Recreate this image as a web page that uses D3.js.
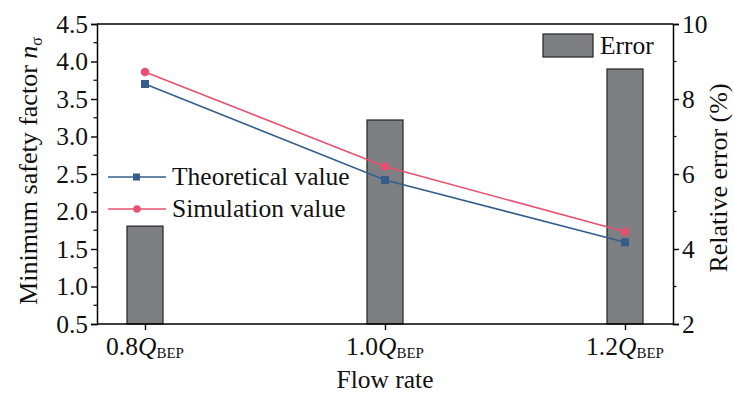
<!DOCTYPE html>
<html>
<head>
<meta charset="utf-8">
<script src="https://cdn.jsdelivr.net/npm/d3@7"></script>
<style>
  html, body { margin: 0; padding: 0; background: #fff; }
  svg { display: block; font-family: "Liberation Serif", "Times New Roman", serif; }
</style>
</head>
<body>
<svg id="chart" width="734" height="394"></svg>
<script>
// Flow-rate operating points
const categories = ["0.8", "1.0", "1.2"];
// Minimum safety factor n_σ
const theoretical = [3.70, 2.42, 1.59];
const simulation = [3.86, 2.60, 1.73];
// Relative error (%)
const errorPct = [4.61, 7.44, 8.80];
// Axis ticks
const leftTicks = [0.5, 1.0, 1.5, 2.0, 2.5, 3.0, 3.5, 4.0, 4.5];
const rightTicks = [2, 4, 6, 8, 10];

const FS = "25.5px";
const SUB = "15px";

const svg = d3.select("#chart");
const m = { left: 97, right: 61, top: 24, bottom: 70 };
const W = 734, H = 394;
const x0 = m.left, x1 = W - m.right, y0 = H - m.bottom, y1 = m.top;

const x = d3.scalePoint().domain(categories).range([x0, x1]).padding(0.2);
const yL = d3.scaleLinear().domain([0.5, 4.5]).range([y0, y1]);
const yR = d3.scaleLinear().domain([2, 10]).range([y0, y1]);

const blue = "#355e8d";
const pink = "#e8506f";
const barFill = "#7e7f83";
const barW = 36;

// Bars (right axis)
svg.append("g").selectAll("rect").data(errorPct).join("rect")
  .attr("x", (d, i) => x(categories[i]) - barW / 2)
  .attr("y", d => yR(d))
  .attr("width", barW)
  .attr("height", d => y0 - yR(d))
  .attr("fill", barFill)
  .attr("stroke", "#222")
  .attr("stroke-width", 1.2);

// Lines
const line = d3.line().x((d, i) => x(categories[i])).y(d => yL(d));
svg.append("path").datum(theoretical).attr("d", line)
  .attr("fill", "none").attr("stroke", blue).attr("stroke-width", 1.6);
svg.append("path").datum(simulation).attr("d", line)
  .attr("fill", "none").attr("stroke", pink).attr("stroke-width", 1.6);

svg.append("g").selectAll("rect").data(theoretical).join("rect")
  .attr("x", (d, i) => x(categories[i]) - 4)
  .attr("y", d => yL(d) - 4)
  .attr("width", 8).attr("height", 8)
  .attr("fill", blue);
svg.append("g").selectAll("circle").data(simulation).join("circle")
  .attr("cx", (d, i) => x(categories[i]))
  .attr("cy", d => yL(d))
  .attr("r", 4.3)
  .attr("fill", pink);

// Frame
svg.append("line").attr("x1", x0).attr("x2", x1).attr("y1", y1).attr("y2", y1)
  .attr("stroke", "#000").attr("stroke-width", 1.5);

// Left axis
const leftAxis = svg.append("g").attr("transform", `translate(${x0},0)`)
  .call(d3.axisLeft(yL).tickValues(leftTicks).tickFormat(d3.format(".1f")).tickSize(6).tickPadding(3));
// minor ticks
svg.append("g").selectAll("line").data(d3.range(0.75, 4.5, 0.5)).join("line")
  .attr("x1", x0 - 3.5).attr("x2", x0).attr("y1", d => yL(d)).attr("y2", d => yL(d))
  .attr("stroke", "#000").attr("stroke-width", 1.2);

// Right axis
const rightAxis = svg.append("g").attr("transform", `translate(${x1},0)`)
  .call(d3.axisRight(yR).tickValues(rightTicks).tickSize(6).tickPadding(3));
svg.append("g").selectAll("line").data([3, 5, 7, 9]).join("line")
  .attr("x1", x1).attr("x2", x1 + 3.5).attr("y1", d => yR(d)).attr("y2", d => yR(d))
  .attr("stroke", "#000").attr("stroke-width", 1.2);

// Bottom axis
const bottomAxis = svg.append("g").attr("transform", `translate(0,${y0})`)
  .call(d3.axisBottom(x).tickSize(6).tickFormat(""));

[leftAxis, rightAxis, bottomAxis].forEach(g => {
  g.select(".domain").attr("stroke", "#000").attr("stroke-width", 1.5);
  g.selectAll(".tick line").attr("stroke", "#000").attr("stroke-width", 1.4);
  g.selectAll(".tick text").attr("fill", "#111").style("font-size", FS)
    .style("font-family", "'Liberation Serif', serif");
});
bottomAxis.select(".domain").attr("d", `M${x0},0H${x1}`);

// Category labels: 0.8Q_BEP
const xl = svg.append("g").selectAll("text").data(categories).join("text")
  .attr("x", d => x(d)).attr("y", 355)
  .attr("text-anchor", "middle")
  .style("font-size", FS).attr("fill", "#111");
xl.append("tspan").text(d => d);
xl.append("tspan").attr("font-style", "italic").text("Q");
xl.append("tspan").attr("dy", 3).style("font-size", SUB).text("BEP");

// Axis titles
svg.append("text").attr("x", x(categories[1])).attr("y", 388)
  .attr("text-anchor", "middle").style("font-size", FS).attr("fill", "#111")
  .text("Flow rate");

const lt = svg.append("text")
  .attr("transform", `translate(37,171) rotate(-90)`)
  .attr("text-anchor", "middle").style("font-size", "26px").attr("fill", "#111");
lt.append("tspan").text("Minimum safety factor ");
lt.append("tspan").attr("font-style", "italic").text("n");
lt.append("tspan").attr("dy", 5).style("font-size", "16px").text("σ");

svg.append("text")
  .attr("transform", `translate(727,178) rotate(-90)`)
  .attr("text-anchor", "middle").style("font-size", "26px").attr("fill", "#111")
  .text("Relative error (%)");

// Legend: lines
const legLines = [
  { name: "Theoretical value", color: blue, shape: "square", y: 177 },
  { name: "Simulation value", color: pink, shape: "circle", y: 209 }
];
const lg = svg.append("g").selectAll("g").data(legLines).join("g");
lg.append("line").attr("x1", 108).attr("x2", 166).attr("y1", d => d.y).attr("y2", d => d.y)
  .attr("stroke", d => d.color).attr("stroke-width", 1.6);
lg.filter(d => d.shape === "square").append("rect")
  .attr("x", 133).attr("y", d => d.y - 3.5).attr("width", 7).attr("height", 7)
  .attr("fill", d => d.color);
lg.filter(d => d.shape === "circle").append("circle")
  .attr("cx", 137).attr("cy", d => d.y).attr("r", 3.8)
  .attr("fill", d => d.color);
lg.append("text").attr("x", 172).attr("y", d => d.y + 8)
  .style("font-size", FS).attr("fill", "#111").text(d => d.name);

// Legend: bars
svg.append("rect").attr("x", 543).attr("y", 34).attr("width", 50).attr("height", 23)
  .attr("fill", barFill).attr("stroke", "#222").attr("stroke-width", 1.2);
svg.append("text").attr("x", 600).attr("y", 54)
  .style("font-size", FS).attr("fill", "#111").text("Error");
</script>
</body>
</html>
